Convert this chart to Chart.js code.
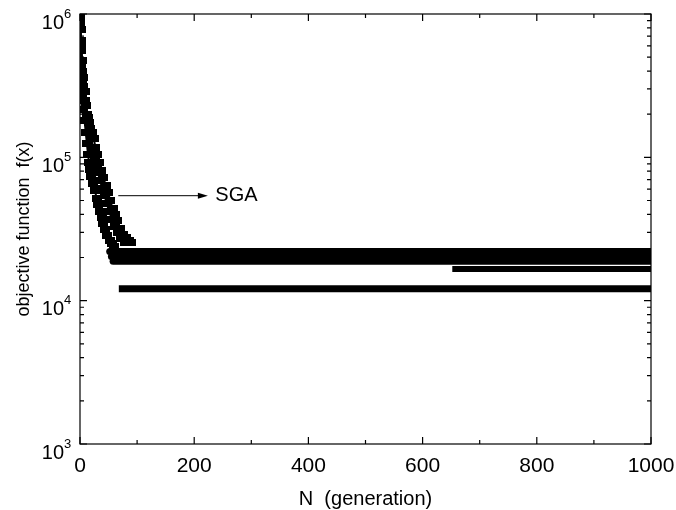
<!DOCTYPE html>
<html>
<head>
<meta charset="utf-8">
<script src="https://cdn.jsdelivr.net/npm/chart.js@4/dist/chart.umd.min.js"></script>
<style>
  html, body { margin: 0; padding: 0; background: #fff; }
  canvas { display: block; }
</style>
</head>
<body>
<canvas id="chart" width="676" height="510"></canvas>
<script>
// generations and objective values for the three SGA runs (descent phase)
const runAGen = [0, 1, 2, 4, 6, 9, 12, 15, 18, 21, 24, 27, 30, 33, 37, 41, 45, 49, 53, 57, 61, 65, 70, 75, 80, 85, 90];
const runAVal = [1000000, 780000, 560000, 400000, 310000, 250000, 200000, 175000, 160000, 150000, 135000, 118000, 104000, 92000, 81000, 72000, 64000, 57000, 50000, 44000, 40000, 36000, 32000, 29000, 27500, 26500, 25500];
const runBGen = [0, 1, 2, 3, 4, 6, 8, 10, 12, 14, 16, 18, 20, 23, 26, 29, 32, 35, 38, 41, 44, 48, 52, 56, 60];
const runBVal = [850000, 600000, 430000, 330000, 270000, 215000, 180000, 150000, 125000, 105000, 92000, 82000, 74000, 66000, 59000, 52000, 47000, 42000, 38000, 34500, 31500, 28500, 26500, 25000, 24000];
const runCGen = [0, 2, 4, 6, 8, 11, 14, 17, 20, 23, 26, 29, 32, 35, 39, 43, 47, 51, 56, 61, 66, 72, 78];
const runCVal = [920000, 650000, 470000, 360000, 290000, 230000, 190000, 160000, 135000, 115000, 100000, 88000, 78000, 69000, 61000, 54000, 47500, 42000, 37000, 33000, 30000, 27000, 25500];

// converged plateaus: first generation at that value, value, held to the last generation
const plateauStart = [52, 55, 58, 652, 68];
const plateauValue = [22000, 20300, 18800, 16600, 12100];
const lastGen = 1000;

// axis ticks
const xMajor = [0, 200, 400, 600, 800, 1000];
const xMinor = [100, 300, 500, 700, 900];
const yDecades = [1e3, 1e4, 1e5, 1e6];
const yExponents = ['3', '4', '5', '6'];
const yMinorMult = [2, 3, 4, 5, 6, 7, 8, 9];

// arrow label
const arrowFrom = 67, arrowTo = 224, arrowValue = 54000, labelGen = 237;

const FONT = "'Liberation Sans', Arial, Helvetica, sans-serif";

// small black rectangle used as the point marker
function makeMarker(w, h) {
  const c = document.createElement('canvas');
  c.width = w; c.height = h;
  const g = c.getContext('2d');
  g.fillStyle = '#000';
  g.fillRect(0, 0, w, h);
  return c;
}
const marker = makeMarker(10, 7);

const toPoints = (gens, vals) => gens.map((g, i) => ({ x: g, y: vals[i] }));

const runDatasets = [[runAGen, runAVal], [runBGen, runBVal], [runCGen, runCVal]].map(([g, v]) => ({
  data: toPoints(g, v),
  showLine: true,
  borderColor: '#000',
  borderWidth: 2,
  pointStyle: marker,
  pointRadius: 5,
  pointHoverRadius: 5,
  clip: 0
}));

const plateauDatasets = plateauStart.map((s, i) => ({
  data: [{ x: s, y: plateauValue[i] }, { x: lastGen, y: plateauValue[i] }],
  showLine: true,
  borderColor: '#000',
  borderWidth: i === 3 ? 6 : 7,
  borderCapStyle: i < 3 ? 'round' : 'butt',
  pointRadius: 0,
  clip: 0
}));

// frame, inward ticks, log labels, y title and the SGA arrow
const decorations = {
  id: 'decorations',
  afterDraw(chart) {
    const { ctx, chartArea: a, scales: { x, y } } = chart;
    ctx.save();
    ctx.strokeStyle = '#000';
    ctx.fillStyle = '#000';
    ctx.lineWidth = 1.2;
    ctx.strokeRect(a.left, a.top, a.right - a.left, a.bottom - a.top);

    const vTick = (px, len) => {
      ctx.beginPath();
      ctx.moveTo(px, a.bottom); ctx.lineTo(px, a.bottom - len);
      ctx.moveTo(px, a.top); ctx.lineTo(px, a.top + len);
      ctx.stroke();
    };
    const hTick = (py, len) => {
      ctx.beginPath();
      ctx.moveTo(a.left, py); ctx.lineTo(a.left + len, py);
      ctx.moveTo(a.right, py); ctx.lineTo(a.right - len, py);
      ctx.stroke();
    };
    xMajor.forEach(v => vTick(x.getPixelForValue(v), 7));
    xMinor.forEach(v => vTick(x.getPixelForValue(v), 4));
    yDecades.forEach(d => hTick(y.getPixelForValue(d), 7));
    yDecades.slice(0, 3).forEach(d => yMinorMult.forEach(m => hTick(y.getPixelForValue(d * m), 4)));

    // 10^n labels
    ctx.textBaseline = 'middle';
    yDecades.forEach((d, i) => {
      const py = y.getPixelForValue(d) + 9;
      ctx.font = '20px ' + FONT;
      ctx.textAlign = 'right';
      ctx.fillText('10', a.left - 16, py);
      ctx.font = '13px ' + FONT;
      ctx.textAlign = 'left';
      ctx.fillText(yExponents[i], a.left - 16, py - 9);
    });

    // y axis title
    ctx.save();
    ctx.translate(24, (a.top + a.bottom) / 2);
    ctx.rotate(-Math.PI / 2);
    ctx.font = '18px ' + FONT;
    ctx.textAlign = 'center';
    ctx.fillText('objective function  f(x)', 0, 0);
    ctx.restore();

    // arrow pointing at the SGA curve label
    const ay = y.getPixelForValue(arrowValue);
    const x0 = x.getPixelForValue(arrowFrom), x1 = x.getPixelForValue(arrowTo);
    ctx.lineWidth = 1;
    ctx.beginPath();
    ctx.moveTo(x0, ay); ctx.lineTo(x1 - 8, ay);
    ctx.stroke();
    ctx.beginPath();
    ctx.moveTo(x1, ay); ctx.lineTo(x1 - 10, ay - 3); ctx.lineTo(x1 - 10, ay + 3);
    ctx.closePath();
    ctx.fill();
    ctx.font = '20px ' + FONT;
    ctx.textAlign = 'left';
    ctx.fillText('SGA', x.getPixelForValue(labelGen), ay);
    ctx.restore();
  }
};

Chart.defaults.font.family = FONT;
Chart.defaults.color = '#000';

new Chart(document.getElementById('chart'), {
  type: 'scatter',
  data: { datasets: [...plateauDatasets, ...runDatasets] },
  options: {
    responsive: false,
    animation: false,
    events: [],
    layout: { padding: { left: 80, top: 14, right: 25, bottom: 0 } },
    plugins: { legend: { display: false }, tooltip: { enabled: false } },
    scales: {
      x: {
        type: 'linear',
        min: 0,
        max: 1000,
        grid: { display: false },
        border: { display: false },
        ticks: { stepSize: 200, padding: 2, maxRotation: 0, font: { size: 21 }, callback: v => String(v) },
        title: { display: true, text: 'N  (generation)', font: { size: 20, lineHeight: 1.1 }, padding: { top: 0, bottom: 0 } },
        afterFit: s => { s.height = 66; s.paddingLeft = 0; s.paddingRight = 0; }
      },
      y: {
        type: 'logarithmic',
        min: 1000,
        max: 1000000,
        grid: { display: false },
        border: { display: false },
        ticks: { display: false },
        title: { display: false },
        afterFit: s => { s.width = 0; }
      }
    }
  },
  plugins: [decorations]
});
</script>
</body>
</html>
